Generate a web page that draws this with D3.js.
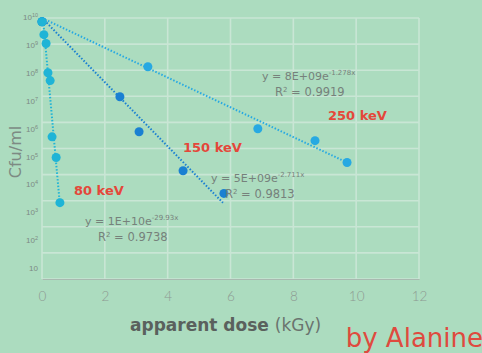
<!DOCTYPE html>
<html>
<head>
<meta charset="utf-8">
<script src="https://cdn.jsdelivr.net/npm/d3@7"></script>
<style>
  body { margin: 0; background: #acdcbf; }
  svg { display: block; font-family: "DejaVu Sans", sans-serif; }
</style>
</head>
<body>
<div id="chart"></div>
<script>
// dose (kGy) and Cfu/ml
var dose80 = [0, 0.06, 0.13, 0.19, 0.26, 0.32, 0.45, 0.57];
var cfu80 = [7.2e9, 2.3e9, 1.05e9, 8e7, 4e7, 2.8e5, 4.5e4, 8.4e2];
var dose150 = [0, 2.48, 3.09, 4.49, 5.79];
var cfu150 = [7.2e9, 9.6e6, 4.4e5, 1.4e4, 1.9e3];
var dose250 = [0, 3.37, 6.87, 8.69, 9.71];
var cfu250 = [7.2e9, 1.35e8, 5.7e5, 2e5, 2.9e4];

// trendline endpoints [dose, cfu]
var trend80 = [[0.03, 1e10], [0.57, 7e2]];
var trend150 = [[0, 1e10], [5.76, 8.3e2]];
var trend250 = [[0, 1e10], [9.71, 2.9e4]];

var xTicks = [0, 2, 4, 6, 8, 10, 12];
var yTicks = [1e10, 1e9, 1e8, 1e7, 1e6, 1e5, 1e4, 1e3, 1e2, 10];

var w = 482, h = 353;

var svg = d3.select("#chart").append("svg")
    .attr("width", w)
    .attr("height", h);

svg.append("rect").attr("width", w).attr("height", h).attr("fill", "#acdcbf");

var x = d3.scaleLinear().domain([0, 12]).range([42, 419]);
var y = d3.scaleLog().domain([1, 1e10]).range([279, 18]);
// tick labels in the original sit slightly off the grid
var yLab = d3.scaleLog().domain([10, 1e10]).range([268, 17]);

// grid
svg.append("g").selectAll("line")
    .data(d3.range(0, 11).map(function(i) { return Math.pow(10, i); }))
    .enter().append("line")
    .attr("x1", x(0)).attr("x2", x(12))
    .attr("y1", d => y(d)).attr("y2", d => y(d))
    .attr("stroke", "#c9e6d5").attr("stroke-width", 1.6);

svg.append("g").selectAll("line")
    .data(xTicks.slice(1))
    .enter().append("line")
    .attr("x1", d => x(d)).attr("x2", d => x(d))
    .attr("y1", y(1e10)).attr("y2", y(1))
    .attr("stroke", "#c9e6d5").attr("stroke-width", 1.6);

// axes
var xAxis = d3.axisBottom(x).tickValues(xTicks).tickSize(0).tickPadding(12);
var gx = svg.append("g")
    .attr("transform", "translate(0," + y(1) + ")")
    .call(xAxis);
gx.select(".domain").attr("stroke", "#a9b9b0").attr("stroke-width", 1.2);
gx.selectAll("text").attr("fill", "#8c9a92")
    .style("font-family", "Lato, sans-serif").style("font-size", "13.5px").style("font-weight", 300);

var yAxis = d3.axisLeft(yLab).tickValues(yTicks).tickSize(0).tickPadding(4).tickFormat("");
var gy = svg.append("g")
    .attr("transform", "translate(" + x(0) + ",0)")
    .call(yAxis);
gy.select(".domain").remove();
gy.selectAll(".tick text").each(function(d) {
    var t = d3.select(this).attr("fill", "#7d8a83").style("font-size", "8px");
    var e = Math.round(Math.log10(d));
    t.append("tspan").text("10");
    if (e > 1) t.append("tspan").attr("dy", -3).style("font-size", "5.5px").text(e);
});
svg.append("line")
    .attr("x1", x(0)).attr("x2", x(0))
    .attr("y1", y(1e10)).attr("y2", y(1))
    .attr("stroke", "#c9e6d5").attr("stroke-width", 1.6);

// trendlines
var line = d3.line().x(d => x(d[0])).y(d => y(d[1]));
var series = [
    {dose: dose80, cfu: cfu80, trend: trend80, color: "#1fb4d6"},
    {dose: dose150, cfu: cfu150, trend: trend150, color: "#1a80d2"},
    {dose: dose250, cfu: cfu250, trend: trend250, color: "#27a9e2"}
];

series.forEach(function(s) {
    svg.append("path")
        .datum(s.trend)
        .attr("d", line)
        .attr("fill", "none")
        .attr("stroke", s.color)
        .attr("stroke-width", 2)
        .attr("stroke-dasharray", "1.5,1.8");
});

series.slice().reverse().forEach(function(s) {
    svg.append("g").selectAll("circle")
        .data(d3.zip(s.dose, s.cfu))
        .enter().append("circle")
        .attr("cx", d => x(d[0]))
        .attr("cy", d => y(d[1]))
        .attr("r", 4.5)
        .attr("fill", s.color);
});

// series labels
var red = "#e4473a";
[["80 keV", 74, 195], ["150 keV", 183, 152], ["250 keV", 328, 120]].forEach(function(l) {
    svg.append("text").attr("x", l[1]).attr("y", l[2])
        .attr("fill", red).style("font-size", "13px").style("font-weight", 700)
        .text(l[0]);
});

// equations
function equation(xp, yp, base, exp, r2, rx) {
    var t = svg.append("text").attr("x", xp).attr("y", yp)
        .attr("fill", "#76817b").style("font-size", "11px");
    t.append("tspan").text("y = " + base);
    t.append("tspan").attr("dy", -5).style("font-size", "7px").text(exp);
    var r = svg.append("text").attr("x", rx).attr("y", yp + 16)
        .attr("fill", "#76817b").style("font-size", "11.5px");
    r.append("tspan").text("R");
    r.append("tspan").attr("dy", -4).style("font-size", "7px").text("2");
    r.append("tspan").attr("dy", 4).text(" = " + r2);
}
equation(262, 80, "8E+09e", "-1.278x", "0.9919", 275);
equation(211, 182, "5E+09e", "-2.711x", "0.9813", 225);
equation(85, 225, "1E+10e", "-29.93x", "0.9738", 98);

// axis titles
svg.append("text")
    .attr("transform", "translate(21,152) rotate(-90)")
    .attr("text-anchor", "middle")
    .attr("fill", "#7d8a83").style("font-size", "16px")
    .text("Cfu/ml");

var xt = svg.append("text").attr("x", 130).attr("y", 331)
    .attr("fill", "#5a615d").style("font-size", "17px");
xt.append("tspan").style("font-weight", 700).text("apparent dose ");
xt.append("tspan").style("font-weight", 400).attr("fill", "#6a736e").text("(kGy)");

svg.append("text").attr("x", 483).attr("y", 347)
    .attr("text-anchor", "end").attr("fill", "#df4a3e").style("font-size", "26px")
    .text("by Alanine");
</script>
</body>
</html>
